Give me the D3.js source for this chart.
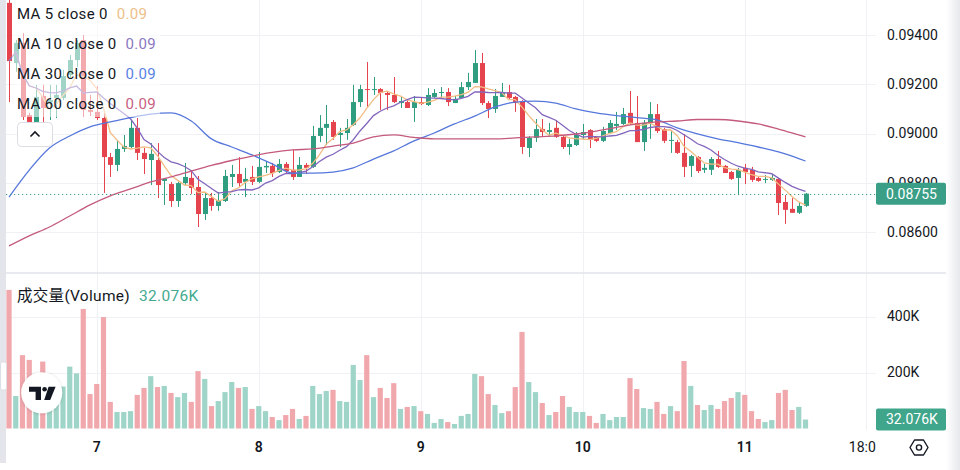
<!DOCTYPE html>
<html>
<head>
<meta charset="utf-8">
<script src="https://cdn.jsdelivr.net/npm/d3@7"></script>
<style>
  body { margin: 0; background: #fff; }
  svg { display: block; font-family: Roboto, "Noto Sans CJK SC", sans-serif; }
</style>
</head>
<body>
<svg id="chart" width="960" height="470"></svg>
<script>
// hourly candles, first one at 11:00 on the 6th
const startTime = new Date(2024, 0, 6, 11, 0);

const opens = [
  .09532,.09287,.09369,.09075,.09047,.09153,.09128,.09145,.09145,.09238,
  .09299,.09381,.09096,.09088,.09063,.08904,.08872,.08937,.08945,.09023,
  .08921,.08892,.08892,.08807,.08794,.08725,.08798,.08819,.08782,.08672,
  .08737,.08705,.08725,.08823,.08835,.08803,.08823,.08803,.08862,.08868,
  .08843,.08876,.08852,.08823,.08872,.08864,.08990,.09023,.09047,.08994,
  .09002,.09035,.09128,.09181,.09177,.09181,.09165,.09157,.09124,.09128,
  .09104,.09128,.09116,.09149,.09165,.09169,.09124,.09145,.09189,.09206,
  .09287,.09124,.09100,.09149,.09169,.09149,.09132,.08941,.08982,.09018,
  .09006,.09023,.08986,.08945,.08953,.08994,.09014,.08986,.08970,.09002,
  .09031,.09039,.09084,.09043,.08965,.09043,.09079,.09018,.08970,.08965,
  .08921,.08868,.08904,.08852,.08852,.08896,.08868,.08843,.08819,.08860,
  .08852,.08819,.08811,.08811,.08815,.08721,.08693,.08677,.08705
];
const highs = [
  .09550,.09381,.09409,.09084,.09198,.09198,.09198,.09198,.09259,.09320,
  .09381,.09401,.09157,.09193,.09084,.08921,.08974,.08994,.09051,.09063,
  .08941,.08961,.08961,.08819,.08803,.08803,.08880,.08851,.08827,.08758,
  .08758,.08762,.08852,.08872,.08904,.08860,.08868,.08925,.08884,.08880,
  .08896,.08884,.08933,.08904,.08880,.09031,.09075,.09116,.09055,.09023,
  .09059,.09198,.09198,.09291,.09230,.09185,.09169,.09230,.09153,.09136,
  .09153,.09145,.09185,.09181,.09189,.09185,.09153,.09210,.09247,.09340,
  .09328,.09132,.09181,.09206,.09198,.09153,.09136,.08990,.09059,.09059,
  .09043,.09055,.08994,.08978,.09006,.09039,.09018,.08990,.09027,.09055,
  .09088,.09104,.09173,.09153,.09055,.09128,.09120,.09023,.09014,.08974,
  .08998,.08913,.08908,.08876,.08904,.08929,.08872,.08847,.08860,.08876,
  .08864,.08823,.08831,.08835,.08819,.08749,.08737,.08721,.08758
];
const lows = [
  .09128,.09251,.09055,.09039,.09043,.09027,.09055,.09063,.09136,.09226,
  .09271,.09067,.09071,.09055,.08758,.08823,.08847,.08925,.08941,.08892,
  .08835,.08790,.08737,.08709,.08701,.08701,.08790,.08754,.08619,.08648,
  .08685,.08685,.08721,.08782,.08782,.08741,.08790,.08798,.08839,.08823,
  .08839,.08839,.08811,.08823,.08835,.08860,.08965,.08953,.08974,.08945,
  .08974,.09031,.09108,.09108,.09157,.09096,.09096,.09124,.09104,.09104,
  .09047,.09116,.09112,.09145,.09145,.09112,.09124,.09141,.09177,.09206,
  .09116,.09063,.09084,.09149,.09141,.09088,.08917,.08904,.08965,.08986,
  .08986,.08982,.08937,.08913,.08949,.08974,.08941,.08965,.08965,.09002,
  .09014,.09035,.09035,.08965,.08929,.08978,.09002,.08961,.08921,.08917,
  .08823,.08823,.08839,.08839,.08831,.08860,.08839,.08811,.08749,.08794,
  .08803,.08803,.08798,.08807,.08668,.08632,.08677,.08672,.08701
];
const closes = [
  .09295,.09369,.09067,.09047,.09149,.09104,.09136,.09157,.09234,.09299,
  .09369,.09096,.09088,.09063,.08904,.08872,.08937,.08949,.09023,.08921,
  .08896,.08917,.08790,.08815,.08725,.08798,.08823,.08778,.08672,.08737,
  .08705,.08729,.08827,.08835,.08798,.08815,.08803,.08864,.08868,.08839,
  .08876,.08847,.08823,.08872,.08860,.08990,.09023,.09039,.08986,.09002,
  .09023,.09128,.09181,.09177,.09181,.09165,.09157,.09128,.09132,.09104,
  .09128,.09120,.09157,.09165,.09169,.09128,.09141,.09189,.09210,.09287,
  .09124,.09100,.09153,.09169,.09145,.09124,.08945,.08982,.09018,.09006,
  .09014,.08986,.08945,.08957,.08994,.09006,.08974,.08970,.09010,.09043,
  .09039,.09079,.09043,.08965,.09043,.09079,.09010,.08970,.08974,.08921,
  .08864,.08908,.08847,.08860,.08896,.08864,.08839,.08815,.08852,.08843,
  .08811,.08807,.08815,.08819,.08717,.08689,.08677,.08705,.08755
];
const volumes = [
  495000,116000,262000,245000,90000,239000,80000,100000,150000,221000,
  197000,427000,123000,159000,398000,95000,59000,59000,62000,120000,
  145000,187000,148000,152000,127000,112000,127000,95000,205000,177000,
  80000,98000,130000,166000,145000,148000,70000,80000,62000,41000,
  30000,48000,70000,34000,45000,152000,123000,134000,138000,98000,
  95000,227000,173000,262000,112000,145000,109000,162000,70000,77000,
  80000,62000,52000,20000,34000,23000,16000,45000,52000,195000,
  187000,123000,84000,55000,62000,148000,345000,166000,130000,91000,
  48000,59000,116000,77000,59000,59000,45000,20000,52000,30000,
  41000,41000,180000,141000,73000,70000,95000,52000,80000,62000,
  241000,152000,84000,66000,84000,70000,98000,109000,130000,120000,
  62000,34000,23000,30000,127000,138000,66000,77000,32076
];

// MA 30 / MA 60 every third candle (they need history left of the view)
const maSampleIdx = d3.range(0, 118, 3).concat([118]);
const ma30Samples = [
  .08741,.08851,.08941,.08990,.09027,.09047,.09065,.09079,.09084,.09051,
  .08978,.08945,.08913,.08876,.08839,.08839,.08843,.08860,.08896,.08929,
  .08970,.09002,.09039,.09071,.09108,.09128,.09132,.09124,.09100,.09084,
  .09073,.09065,.09055,.09023,.08998,.08978,.08963,.08945,.08925,.08898,
  .08888
];
const ma60Samples = [
  .08542,.08583,.08619,.08664,.08709,.08746,.08774,.08803,.08823,.08847,
  .08870,.08890,.08908,.08923,.08933,.08937,.08949,.08961,.08986,.08994,
  .08984,.08978,.08978,.08978,.08978,.08982,.08986,.08990,.08998,.09010,
  .09025,.09039,.09047,.09051,.09057,.09057,.09051,.09039,.09018,.08994,
  .08986
];

const priceTicks = [0.086, 0.088, 0.090, 0.092, 0.094];
const volumeTicks = [200000, 400000];

const upColor = "#2f9d80", downColor = "#e5434d";
const upVol = "#9fd5c8", downVol = "#f0a8ad";

const svg = d3.select("#chart");
const plotLeft = 6, plotRight = 876;

const dates = closes.map((d, i) => d3.timeHour.offset(startTime, i));
const n = closes.length;

const x = d3.scaleTime().domain([dates[0], dates[n - 1]]).range([9, 805.5]);
const y = d3.scaleLinear().domain([0.086, 0.094]).range([231.7, 35.3]);
const vy = d3.scaleLinear().domain([0, 400000]).range([428.5, 316.5]);

function sma(vals, len) {
  return vals.map((v, i) => d3.mean(vals.slice(Math.max(0, i - len + 1), i + 1)));
}

const defs = svg.append("defs");
defs.append("clipPath").attr("id", "clipPrice")
  .append("rect").attr("x", plotLeft).attr("y", 0).attr("width", plotRight - plotLeft).attr("height", 272);
defs.append("clipPath").attr("id", "clipVol")
  .append("rect").attr("x", plotLeft).attr("y", 274).attr("width", plotRight - plotLeft).attr("height", 156);
defs.append("clipPath").attr("id", "clipTime")
  .append("rect").attr("x", 0).attr("y", 430).attr("width", plotRight).attr("height", 40);
const shadow = defs.append("filter").attr("id", "soft").attr("x", "-30%").attr("y", "-30%").attr("width", "160%").attr("height", "160%");
shadow.append("feDropShadow").attr("dx", 0).attr("dy", 0.5).attr("stdDeviation", 1.6)
  .attr("flood-color", "#000").attr("flood-opacity", 0.18);
const shade = defs.append("linearGradient").attr("id", "edge").attr("x1", 0).attr("x2", 1);
shade.append("stop").attr("offset", 0).attr("stop-color", "#fff");
shade.append("stop").attr("offset", 1).attr("stop-color", "#e6e8ec");

svg.append("rect").attr("width", 960).attr("height", 470).attr("fill", "#fff");

// grid
const timeTicks = d3.timeDay.range(dates[0], dates[n - 1]);
timeTicks.push(d3.timeHour.offset(timeTicks[timeTicks.length - 1], 18));

const grid = svg.append("g").attr("stroke", "#eff1f4").attr("stroke-width", 1);
grid.selectAll("line.h").data(priceTicks).enter().append("line")
  .attr("x1", plotLeft).attr("x2", plotRight)
  .attr("y1", d => Math.round(y(d)) + 0.5).attr("y2", d => Math.round(y(d)) + 0.5);
grid.selectAll("line.v").data(volumeTicks).enter().append("line")
  .attr("x1", plotLeft).attr("x2", plotRight)
  .attr("y1", d => Math.round(vy(d)) + 0.5).attr("y2", d => Math.round(vy(d)) + 0.5);
grid.selectAll("line.t").data(timeTicks).enter().append("line")
  .attr("x1", d => Math.round(x(d)) + 0.5).attr("x2", d => Math.round(x(d)) + 0.5)
  .attr("y1", 0).attr("y2", 430);

// volume
const volG = svg.append("g").attr("clip-path", "url(#clipVol)");
volG.selectAll("rect").data(volumes).enter().append("rect")
  .attr("x", (d, i) => x(dates[i]) - 2.6)
  .attr("width", 5.2)
  .attr("y", d => vy(d))
  .attr("height", d => vy(0) - vy(d))
  .attr("fill", (d, i) => closes[i] >= opens[i] ? upVol : downVol);

// candles
const priceG = svg.append("g").attr("clip-path", "url(#clipPrice)");
const candle = priceG.selectAll("g.c").data(closes).enter().append("g");
candle.append("line")
  .attr("x1", (d, i) => Math.round(x(dates[i])) + 0.5)
  .attr("x2", (d, i) => Math.round(x(dates[i])) + 0.5)
  .attr("y1", (d, i) => y(highs[i]))
  .attr("y2", (d, i) => y(lows[i]))
  .attr("stroke", (d, i) => d >= opens[i] ? upColor : downColor)
  .attr("stroke-width", 1);
candle.append("rect")
  .attr("x", (d, i) => Math.round(x(dates[i])) - 2)
  .attr("width", 5)
  .attr("y", (d, i) => y(Math.max(d, opens[i])))
  .attr("height", (d, i) => Math.max(1, Math.abs(y(d) - y(opens[i]))))
  .attr("fill", (d, i) => d >= opens[i] ? upColor : downColor);

// moving averages
const ma5 = sma(closes, 5), ma10 = sma(closes, 10);
const lineIdx = d3.line().x(d => x(dates[d[0]])).y(d => y(d[1]));
const maLines = [
  { label: "MA 5 close 0", color: "#f2bd84", text: "#edbf8a", pts: ma5.map((v, i) => [i, v]), curve: d3.curveLinear },
  { label: "MA 10 close 0", color: "#8266bd", text: "#8a78bf", pts: ma10.map((v, i) => [i, v]), curve: d3.curveLinear },
  { label: "MA 30 close 0", color: "#5677db", text: "#5a82e3", pts: ma30Samples.map((v, k) => [maSampleIdx[k], v]), curve: d3.curveMonotoneX },
  { label: "MA 60 close 0", color: "#c45a7d", text: "#c8607f", pts: ma60Samples.map((v, k) => [maSampleIdx[k], v]), curve: d3.curveMonotoneX }
];
maLines.forEach(m => {
  priceG.append("path")
    .attr("d", lineIdx.curve(m.curve)(m.pts))
    .attr("fill", "none")
    .attr("stroke", m.color)
    .attr("stroke-width", 1.3);
});

// last price line
const lastClose = closes[n - 1];
svg.append("line")
  .attr("x1", plotLeft).attr("x2", plotRight)
  .attr("y1", Math.round(y(lastClose)) + 0.5).attr("y2", Math.round(y(lastClose)) + 0.5)
  .attr("stroke", "#3a9c84").attr("stroke-width", 1).attr("stroke-dasharray", "1.2,2.8");

// legend veil
svg.append("rect").attr("x", 12).attr("y", 0).attr("width", 148).attr("height", 117)
  .attr("fill", "#fff").attr("opacity", 0.55);

const legend = svg.append("g").attr("font-size", 15).attr("letter-spacing", 0.33);
maLines.forEach((m, k) => {
  const t = legend.append("text").attr("x", 17).attr("y", 14 + k * 30).attr("dy", "0.35em");
  t.append("tspan").attr("fill", "#131722").text(m.label);
  t.append("tspan").attr("dx", 9).attr("fill", m.text)
    .text(d3.format(".2f")(m.pts[m.pts.length - 1][1]));
});

// collapse button
svg.append("rect").attr("x", 17.5).attr("y", 122.5).attr("width", 35).attr("height", 24).attr("rx", 4)
  .attr("fill", "#fff").attr("stroke", "#dadde3");
svg.append("path").attr("d", "M30.5,136.5 L35,132 L39.5,136.5")
  .attr("fill", "none").attr("stroke", "#131722").attr("stroke-width", 1.6);

// volume legend
const vLegend = svg.append("text").attr("x", 17).attr("y", 296).attr("dy", "0.35em")
  .attr("font-size", 15.5).attr("letter-spacing", 0.3);
vLegend.append("tspan").attr("fill", "#131722").text("成交量(Volume)");
vLegend.append("tspan").attr("dx", 9).attr("fill", "#44a98f")
  .text(d3.format(".3f")(volumes[n - 1] / 1000) + "K");

// pane separator
svg.append("line").attr("x1", 0).attr("x2", 960).attr("y1", 273).attr("y2", 273)
  .attr("stroke", "#e0e3eb").attr("stroke-width", 1.5);

// right axis labels
const axisR = svg.append("g").attr("font-size", 14).attr("fill", "#131722");
axisR.selectAll("text.p").data(priceTicks).enter().append("text")
  .attr("x", 887).attr("y", d => y(d)).attr("dy", "0.35em")
  .text(d => d3.format(".5f")(d));
axisR.selectAll("text.v").data(volumeTicks).enter().append("text")
  .attr("x", 887).attr("y", d => vy(d)).attr("dy", "0.35em")
  .text(d => (d / 1000) + "K");

// last price / volume badges
svg.append("rect").attr("x", 876).attr("y", y(lastClose) - 11).attr("width", 70).attr("height", 22).attr("rx", 2)
  .attr("fill", "#3a9f86");
svg.append("text").attr("x", 886).attr("y", y(lastClose)).attr("dy", "0.35em")
  .attr("font-size", 14).attr("fill", "#fff").text(d3.format(".5f")(lastClose));
svg.append("rect").attr("x", 876).attr("y", vy(volumes[n - 1]) - 11).attr("width", 70).attr("height", 22).attr("rx", 2)
  .attr("fill", "#3fa58b");
svg.append("text").attr("x", 886).attr("y", vy(volumes[n - 1])).attr("dy", "0.35em")
  .attr("font-size", 14).attr("fill", "#fff").text(d3.format(".3f")(volumes[n - 1] / 1000) + "K");

// time axis
const timeG = svg.append("g").attr("clip-path", "url(#clipTime)").attr("font-size", 14).attr("fill", "#131722");
timeG.selectAll("text").data(timeTicks).enter().append("text")
  .attr("x", d => x(d)).attr("y", 447).attr("dy", "0.35em")
  .attr("text-anchor", "middle")
  .attr("font-weight", d => d.getHours() === 0 ? 600 : 400)
  .text(d => d.getHours() === 0 ? d3.timeFormat("%-d")(d) : d3.timeFormat("%H:%M")(d));

// settings icon
svg.append("path").attr("d", "M910,447.5 L914.5,440 L923.5,440 L928,447.5 L923.5,455 L914.5,455 Z")
  .attr("fill", "none").attr("stroke", "#131722").attr("stroke-width", 1.4).attr("stroke-linejoin", "round");
svg.append("circle").attr("cx", 919).attr("cy", 447.5).attr("r", 2.6)
  .attr("fill", "none").attr("stroke", "#131722").attr("stroke-width", 1.4);

// left toolbar edge and right shade
svg.append("rect").attr("x", 0).attr("y", 0).attr("width", 6).attr("height", 463).attr("fill", "#e3e5ea");
svg.append("rect").attr("x", 0.5).attr("y", 362).attr("width", 6).attr("height", 28).attr("rx", 2)
  .attr("fill", "#fff").attr("stroke", "#dcdfe5");
svg.append("rect").attr("x", 946).attr("y", 0).attr("width", 14).attr("height", 470).attr("fill", "url(#edge)");

// tradingview badge
svg.append("circle").attr("cx", 41.7).attr("cy", 392.7).attr("r", 20.5)
  .attr("fill", "#fff").attr("filter", "url(#soft)");
const logo = svg.append("g").attr("fill", "#131722");
logo.append("path").attr("d", "M29,386.8 H41 V400 H35.6 V391.8 H29 Z");
logo.append("circle").attr("cx", 44.6).attr("cy", 389.3).attr("r", 2.3);
logo.append("path").attr("d", "M48.6,386.8 H55.6 L50.2,400 H44.2 Z");
</script>
</body>
</html>
